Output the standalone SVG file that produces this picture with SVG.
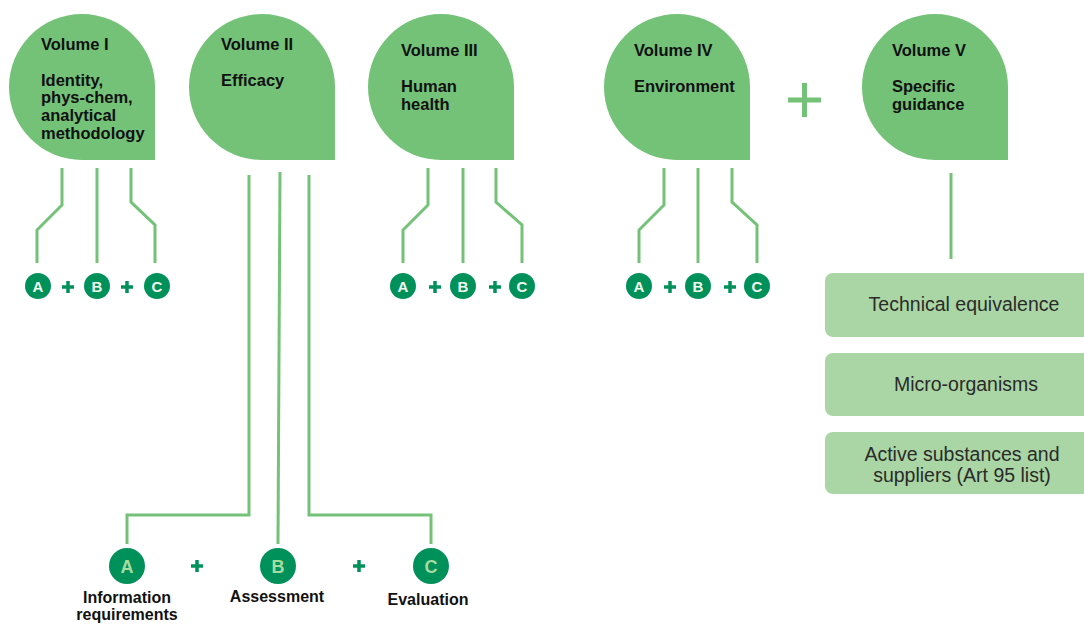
<svg xmlns="http://www.w3.org/2000/svg" width="1084" height="624" viewBox="0 0 1084 624">
<style>
.drop{fill:#74c278}
.t{font-family:"Liberation Sans",Arial,sans-serif;font-weight:bold;font-size:16.5px;fill:#111}
.ln{fill:none;stroke:#74c278;stroke-width:3}
.sc{fill:#00915b}
.sl{font-family:"Liberation Sans",Arial,sans-serif;font-weight:bold;font-size:15px;fill:#f2fbf0;text-anchor:middle}
.bl{font-family:"Liberation Sans",Arial,sans-serif;font-weight:bold;font-size:18px;fill:#a6dca0;text-anchor:middle}
.pl{stroke:#00915b;stroke-width:3.5;fill:none}
.lab{font-family:"Liberation Sans",Arial,sans-serif;font-weight:bold;font-size:16px;fill:#111;text-anchor:middle}
.box{fill:#a9d6a4}
.bt{font-family:"Liberation Sans",Arial,sans-serif;font-size:19.5px;fill:#2b2b2b;text-anchor:middle}
</style>
<defs>
<path id="drop" d="M-73 0 A73 73 0 0 1 0 -73 A73 73 0 0 1 73 0 L73 73 L0 73 A73 73 0 0 1 -73 0 Z"/>
<g id="sp"><path d="M-6 0 H6 M0 -6 V6"/></g>
</defs>

<g id="vol1">
<use href="#drop" class="drop" x="82" y="87"/>
<text class="t" x="41" y="50">Volume I</text>
<text class="t" x="41" y="86">Identity,</text>
<text class="t" x="41" y="103">phys-chem,</text>
<text class="t" x="41" y="121">analytical</text>
<text class="t" x="41" y="139">methodology</text>
</g>
<g id="vol2">
<use href="#drop" class="drop" x="262" y="87"/>
<text class="t" x="221" y="50">Volume II</text>
<text class="t" x="221" y="86">Efficacy</text>
</g>
<g id="vol3">
<use href="#drop" class="drop" x="441" y="87"/>
<text class="t" x="401" y="56">Volume III</text>
<text class="t" x="401" y="92">Human</text>
<text class="t" x="401" y="110">health</text>
</g>
<g id="vol4">
<use href="#drop" class="drop" x="677" y="87"/>
<text class="t" x="634" y="56">Volume IV</text>
<text class="t" x="634" y="92">Environment</text>
</g>
<g id="vol5">
<use href="#drop" class="drop" x="935" y="87"/>
<text class="t" x="892" y="56">Volume V</text>
<text class="t" x="892" y="92">Specific</text>
<text class="t" x="892" y="110">guidance</text>
</g>

<g id="connectors">
<path class="ln" d="M62 168 V205 L37 230 V263"/>
<path class="ln" d="M97 168 V263"/>
<path class="ln" d="M131 168 V202 L155 225 V263"/>
<path class="ln" d="M428 168 V205 L403 230 V263"/>
<path class="ln" d="M463 168 V263"/>
<path class="ln" d="M496 168 V202 L522 225 V263"/>
<path class="ln" d="M664 168 V205 L639 230 V263"/>
<path class="ln" d="M698 168 V263"/>
<path class="ln" d="M732 168 V202 L757 225 V263"/>
<path class="ln" d="M249 175 V515 H127 V544"/>
<path class="ln" d="M280 172 L278 544"/>
<path class="ln" d="M309 175 V515 H431 V544"/>
<path class="ln" d="M951 173 V259"/>
</g>

<g id="abc1">
<circle class="sc" cx="38" cy="286" r="13"/><text class="sl" x="38" y="291.5">A</text>
<use href="#sp" class="pl" x="68" y="287"/>
<circle class="sc" cx="97" cy="286" r="13"/><text class="sl" x="97" y="291.5">B</text>
<use href="#sp" class="pl" x="127" y="287"/>
<circle class="sc" cx="157" cy="286" r="13"/><text class="sl" x="157" y="291.5">C</text>
</g>
<g id="abc3">
<circle class="sc" cx="403" cy="286" r="13"/><text class="sl" x="403" y="291.5">A</text>
<use href="#sp" class="pl" x="435" y="287"/>
<circle class="sc" cx="463" cy="286" r="13"/><text class="sl" x="463" y="291.5">B</text>
<use href="#sp" class="pl" x="495" y="287"/>
<circle class="sc" cx="522" cy="286" r="13"/><text class="sl" x="522" y="291.5">C</text>
</g>
<g id="abc4">
<circle class="sc" cx="639" cy="286" r="13"/><text class="sl" x="639" y="291.5">A</text>
<use href="#sp" class="pl" x="670" y="287"/>
<circle class="sc" cx="698" cy="286" r="13"/><text class="sl" x="698" y="291.5">B</text>
<use href="#sp" class="pl" x="730" y="287"/>
<circle class="sc" cx="757" cy="286" r="13"/><text class="sl" x="757" y="291.5">C</text>
</g>

<g id="abc2">
<circle class="sc" cx="127" cy="566" r="18"/><text class="bl" x="127" y="572.5">A</text>
<use href="#sp" class="pl" x="197" y="566"/>
<circle class="sc" cx="278" cy="566" r="18"/><text class="bl" x="278" y="572.5">B</text>
<use href="#sp" class="pl" x="359" y="566"/>
<circle class="sc" cx="431" cy="566" r="18"/><text class="bl" x="431" y="572.5">C</text>
<text class="lab" x="127" y="603">Information</text>
<text class="lab" x="127" y="620">requirements</text>
<text class="lab" x="277" y="602">Assessment</text>
<text class="lab" x="428" y="605">Evaluation</text>
</g>

<g id="plus-big">
<path d="M788 100 H821 M804.5 83 V117" stroke="#74c278" stroke-width="5" fill="none"/>
</g>

<g id="box1">
<rect class="box" x="825" y="273" width="270" height="64" rx="8"/>
<text class="bt" x="964" y="311">Technical equivalence</text>
</g>
<g id="box2">
<rect class="box" x="825" y="353" width="270" height="63" rx="8"/>
<text class="bt" x="966" y="391">Micro-organisms</text>
</g>
<g id="box3">
<rect class="box" x="825" y="432" width="270" height="62" rx="8"/>
<text class="bt" x="962" y="461">Active substances and</text>
<text class="bt" x="962" y="482">suppliers (Art 95 list)</text>
</g>
</svg>
